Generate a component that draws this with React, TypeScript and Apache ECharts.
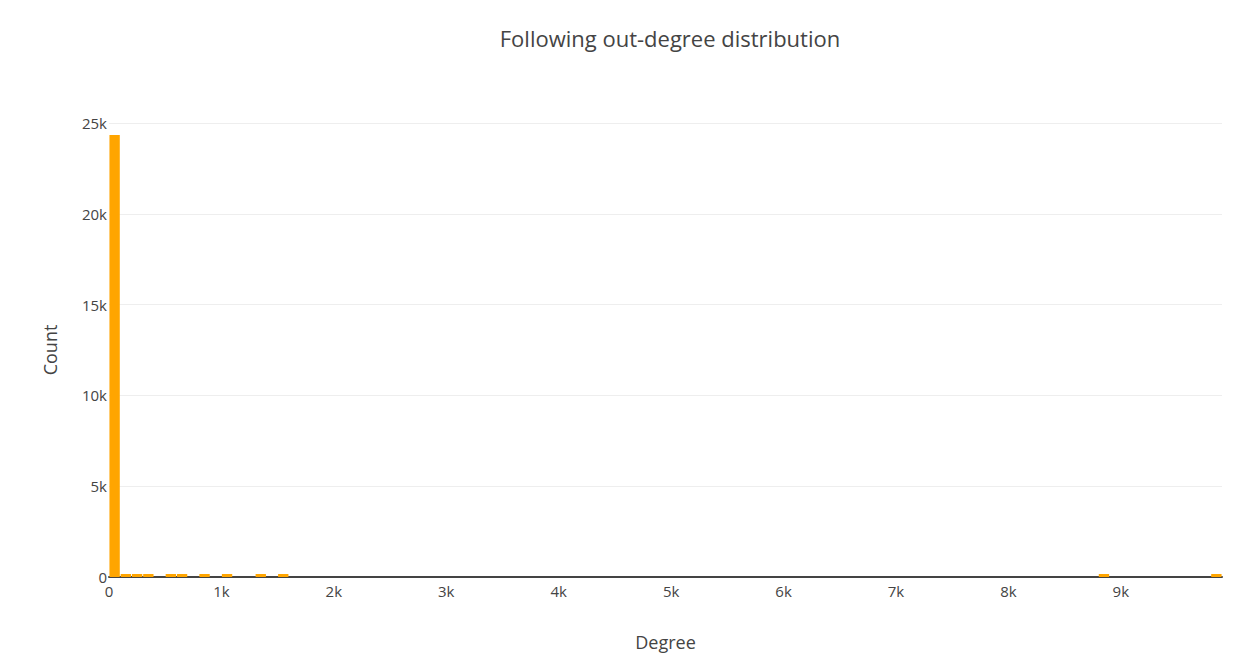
import { useEffect, useRef } from "react";
import * as echarts from "echarts";

// histogram bins of width 100, starting at 0
const binStarts: number[] = Array.from({ length: 99 }, (_, i) => i * 100);
const nonZeroBins: [number, number][] = [
  [0, 24340], [1, 45], [2, 40], [3, 35], [5, 30], [6, 28], [8, 25],
  [10, 22], [13, 20], [15, 18], [88, 15], [98, 15],
];
const counts: (number | null)[] = binStarts.map((_, i) => {
  const hit = nonZeroBins.find((b) => b[0] === i);
  return hit ? hit[1] : null;
});
const yTicks = [0, 5000, 10000, 15000, 20000, 25000];

const fmtK = (v: number) => (v === 0 ? "0" : `${v / 1000}k`);
const FONT = "'Open Sans', sans-serif";

export default function App() {
  const ref = useRef<HTMLDivElement>(null);

  useEffect(() => {
    if (!ref.current) return;
    const chart = echarts.init(ref.current, undefined, { renderer: "svg" });
    chart.setOption({
      animation: false,
      backgroundColor: "#fff",
      textStyle: { fontFamily: FONT },
      title: {
        text: "Following out-degree distribution",
        left: 665,
        textAlign: "center",
        top: 22,
        textStyle: { fontFamily: FONT, fontSize: 22, fontWeight: "normal", color: "#444" },
      },
      grid: { left: 109, right: 16, top: 123, bottom: 84 },
      xAxis: [
        {
          type: "category",
          data: binStarts.map(String),
          show: false,
          boundaryGap: true,
        },
        {
          type: "value",
          min: 0,
          max: 9900,
          interval: 1000,
          position: "bottom",
          name: "Degree",
          nameLocation: "middle",
          nameGap: 56,
          nameTextStyle: { fontFamily: FONT, fontSize: 18, color: "#444" },
          axisLine: { show: true, lineStyle: { color: "#444", width: 2 } },
          axisTick: { show: false },
          splitLine: { show: false },
          axisLabel: { color: "#444", fontSize: 15, formatter: fmtK, showMaxLabel: false, margin: 6 },
        },
      ],
      yAxis: {
        type: "value",
        min: 0,
        max: 25000,
        interval: 5000,
        name: "Count",
        nameLocation: "middle",
        nameGap: 50,
        nameTextStyle: { fontFamily: FONT, fontSize: 18, color: "#444" },
        axisLine: { show: false },
        axisTick: { show: false },
        splitLine: { lineStyle: { color: "#eee" } },
        axisLabel: {
          color: "#444",
          fontSize: 15,
          margin: 2,
          formatter: (v: number) => (yTicks.includes(v) ? fmtK(v) : ""),
        },
      },
      series: [
        {
          type: "bar",
          xAxisIndex: 0,
          data: counts,
          barCategoryGap: "8%",
          barMinHeight: 3,
          itemStyle: { color: "#FFA500" },
        },
      ],
    });
    return () => chart.dispose();
  }, []);

  return <div ref={ref} style={{ width: 1238, height: 661, position: "absolute", left: 0, top: 0 }} />;
}
